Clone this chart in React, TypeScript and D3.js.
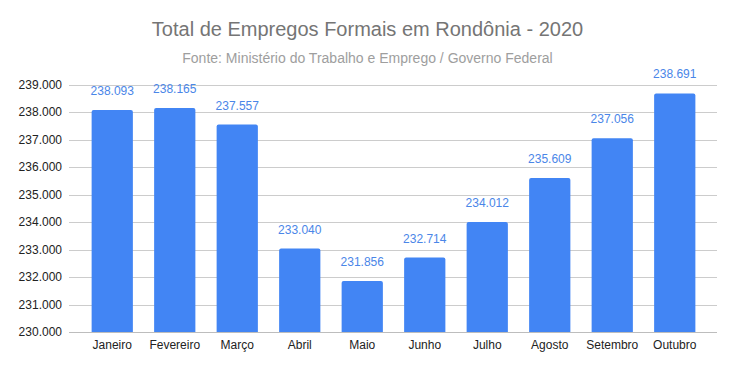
import React from "react";
import * as d3 from "d3";

const months = ["Janeiro", "Fevereiro", "Março", "Abril", "Maio", "Junho", "Julho", "Agosto", "Setembro", "Outubro"];
const empregos = [238093, 238165, 237557, 233040, 231856, 232714, 234012, 235609, 237056, 238691];
const yTicks = [230000, 231000, 232000, 233000, 234000, 235000, 236000, 237000, 238000, 239000];

const width = 735;
const height = 371;
const gridLeft = 69;
const gridRight = 717;
const top = 85;
const bottom = 332;

const fmt = (v: number) => d3.format(",")(v).replace(/,/g, ".");

export default function App() {
  const x = d3
    .scaleBand()
    .domain(months)
    .range([81, 706])
    .paddingInner(0.34)
    .paddingOuter(0.17);

  const y = d3.scaleLinear().domain([230000, 239000]).range([bottom, top]);

  const font = "'Liberation Sans', Arial, sans-serif";

  return (
    <svg
      width={width}
      height={height}
      style={{ position: "absolute", left: 0, top: 0, background: "#fff" }}
      fontFamily={font}
    >
      <rect width={width} height={height} fill="#fff" />
      <text x={width / 2} y={36} textAnchor="middle" fontSize={20} fill="#757575">
        Total de Empregos Formais em Rondônia - 2020
      </text>
      <text x={width / 2} y={63} textAnchor="middle" fontSize={14} fill="#9e9e9e">
        Fonte: Ministério do Trabalho e Emprego / Governo Federal
      </text>

      {yTicks.map((t) => (
        <g key={t}>
          <line
            x1={gridLeft}
            x2={gridRight}
            y1={Math.round(y(t)) + 0.5}
            y2={Math.round(y(t)) + 0.5}
            stroke={t === 230000 ? "#bdbdbd" : "#cccccc"}
          />
          <text x={62} y={y(t) + 4} textAnchor="end" fontSize={12} fill="#222">
            {fmt(t)}
          </text>
        </g>
      ))}

      {months.map((m, i) => {
        const v = empregos[i];
        const bx = x(m) as number;
        return (
          <g key={m}>
            <path
              d={`M${bx},${bottom} V${y(v) + 2} Q${bx},${y(v)} ${bx + 2},${y(v)} H${bx + x.bandwidth() - 2} Q${bx + x.bandwidth()},${y(v)} ${bx + x.bandwidth()},${y(v) + 2} V${bottom} Z`}
              fill="#4285f4"
            />
            <text
              x={bx + x.bandwidth() / 2}
              y={y(v) - 15}
              textAnchor="middle"
              fontSize={12}
              fill="#4a86e8"
            >
              {fmt(v)}
            </text>
            <text
              x={bx + x.bandwidth() / 2}
              y={349}
              textAnchor="middle"
              fontSize={12}
              fill="#222"
            >
              {m}
            </text>
          </g>
        );
      })}
    </svg>
  );
}
